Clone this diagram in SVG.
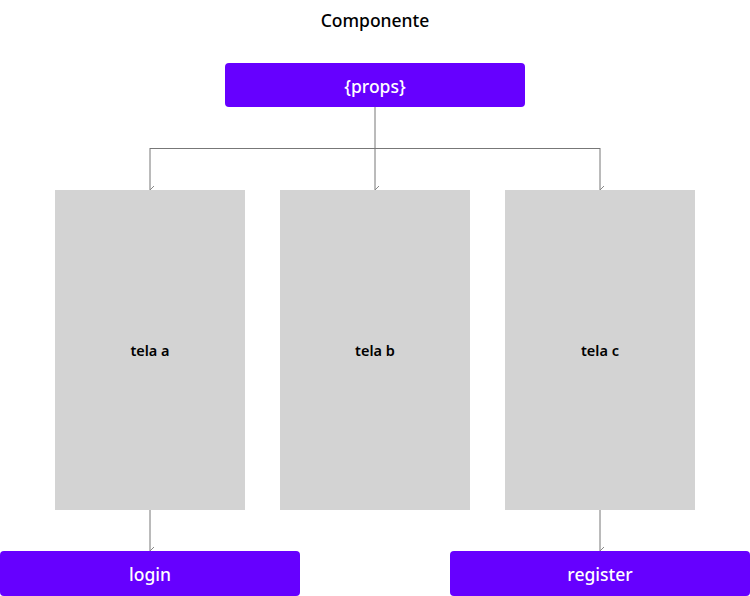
<svg xmlns="http://www.w3.org/2000/svg" width="750" height="596" viewBox="0 0 750 596">
<style>
text{font-family:"Noto Sans","Open Sans",sans-serif;text-anchor:middle;dominant-baseline:central}
.title{font-size:17.5px;font-weight:500;fill:#000}
.btn{fill:#6600ff}
.btnt{font-size:17.5px;font-weight:500;fill:#fff}
.screen{fill:#d3d3d3}
.st{font-size:14.5px;font-weight:600;fill:#000}
.c{stroke:#777;stroke-width:1;fill:none}
</style>
<defs>
<marker id="ar" viewBox="0 0 10 10" refX="5" refY="9" markerWidth="10" markerHeight="10" markerUnits="userSpaceOnUse" orient="auto-start-reverse">
<path d="M1 5 L5 9 L9 5" fill="none" stroke="#888" stroke-width="1"/>
</marker>
</defs>
<rect width="750" height="596" fill="#fff"/>
<g id="title"><text class="title" x="375" y="20">Componente</text></g>
<g id="connectors">
<path class="c" d="M375 107 V190" marker-end="url(#ar)"/>
<path class="c" d="M150 148.5 H600"/>
<path class="c" d="M150 148 V190" marker-end="url(#ar)"/>
<path class="c" d="M600 148 V190" marker-end="url(#ar)"/>
<path class="c" d="M150 510 V551" marker-end="url(#ar)"/>
<path class="c" d="M600 510 V551" marker-end="url(#ar)"/>
</g>
<g id="props"><rect class="btn" x="225" y="63" width="300" height="44" rx="4"/><text class="btnt" x="375" y="86">{props}</text></g>
<g id="tela-a"><rect class="screen" x="55" y="190" width="190" height="320"/><text class="st" x="150" y="350">tela a</text></g>
<g id="tela-b"><rect class="screen" x="280" y="190" width="190" height="320"/><text class="st" x="375" y="350">tela b</text></g>
<g id="tela-c"><rect class="screen" x="505" y="190" width="190" height="320"/><text class="st" x="600" y="350">tela c</text></g>
<g id="login"><rect class="btn" x="0" y="551" width="300" height="45" rx="4"/><text class="btnt" x="150" y="574">login</text></g>
<g id="register"><rect class="btn" x="450" y="551" width="300" height="45" rx="4"/><text class="btnt" x="600" y="574">register</text></g>
</svg>
